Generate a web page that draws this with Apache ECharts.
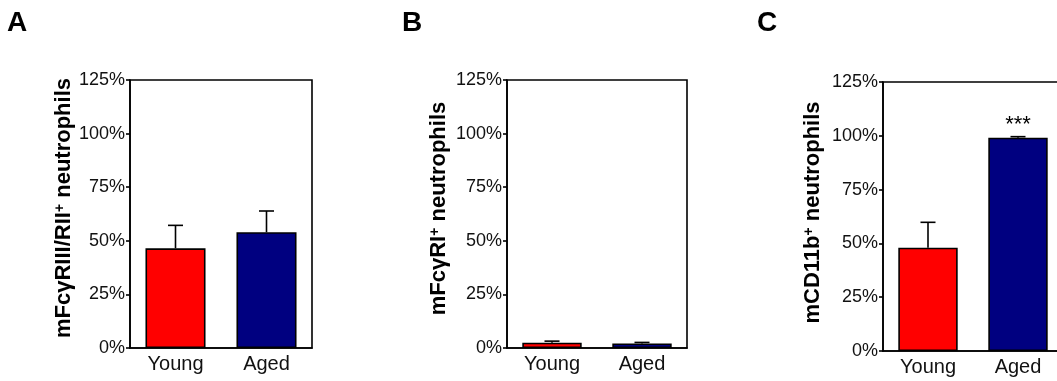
<!DOCTYPE html>
<html><head><meta charset="utf-8">
<script src="https://cdn.jsdelivr.net/npm/echarts@6/dist/echarts.min.js"></script>
<style>html,body{margin:0;padding:0;background:#fff}#c{width:1057px;height:381px}</style>
</head><body><div id="c"></div>
<script>
const categories = ['Young', 'Aged'];
const barColors = ['#ff0000', '#000080'];
const yTicks = [0, 25, 50, 75, 100, 125];
const panelLetters = ['A', 'B', 'C'];
const yTitles = ['mFcγRIII/RII{sup|+} neutrophils', 'mFcγRI{sup|+} neutrophils', 'mCD11b{sup|+} neutrophils'];
const meanA = [46.5, 54.0];
const errA = [10.7, 9.9];
const meanB = [2.5, 2.1];
const errB = [0.7, 0.5];
const meanC = [48.0, 99.1];
const errC = [11.8, 0.5];
const sigC = ['', '***'];

const FONT = 'Liberation Sans, Arial, sans-serif';
const means = [meanA, meanB, meanC];
const errs = [errA, errB, errC];
const sigs = [['', ''], ['', ''], sigC];

const grids = [
  {left: 130, top: 80, width: 182, height: 268},
  {left: 507, top: 80, width: 180, height: 268},
  {left: 883, top: 82, width: 180, height: 269}
];
const nameGaps = [47, 57, 59];
const namePads = [[0, 0, 0, 12], [0, 0, 0, 11], [0, 0, 0, 8]];
const letterPos = [[7, 9], [402, 9], [757, 9]];

function renderErr(params, api) {
  const x = api.value(0), y = api.value(1), e = api.value(2);
  const b = api.coord([x, y]);
  const t = api.coord([x, y + e]);
  const cap = 7.5;
  return {type: 'group', children: [
    {type: 'line', shape: {x1: b[0], y1: b[1], x2: t[0], y2: t[1]}, style: {stroke: '#000', lineWidth: 1.6}},
    {type: 'line', shape: {x1: t[0] - cap, y1: t[1], x2: t[0] + cap, y2: t[1]}, style: {stroke: '#000', lineWidth: 1.6}}
  ]};
}

const option = {
  backgroundColor: '#fff',
  animation: false,
  textStyle: {fontFamily: FONT},
  title: panelLetters.map((l, i) => ({text: l, left: letterPos[i][0], top: letterPos[i][1], padding: 0,
    textStyle: {fontSize: 28, fontWeight: 'bold', color: '#000', fontFamily: FONT}})),
  grid: grids.map(g => Object.assign({show: true, borderColor: '#000', borderWidth: 1.6, backgroundColor: 'transparent', outerBoundsMode: 'none', containLabel: false}, g)),
  xAxis: grids.map((g, i) => ({type: 'category', gridIndex: i, data: categories,
    axisLine: {lineStyle: {color: '#000', width: 1.6}}, axisTick: {show: false},
    axisLabel: {color: '#111', fontSize: 20, margin: 6, fontFamily: FONT}})),
  yAxis: grids.map((g, i) => ({type: 'value', gridIndex: i, min: yTicks[0], max: yTicks[yTicks.length - 1], interval: 25,
    splitLine: {show: false},
    axisLine: {show: true, lineStyle: {color: '#000', width: 1.6}},
    axisTick: {show: true, length: 4, lineStyle: {color: '#000', width: 1.6}},
    axisLabel: {color: '#111', fontSize: 18, margin: 5, formatter: v => v + '%', fontFamily: FONT},
    name: yTitles[i], nameLocation: 'middle', nameGap: nameGaps[i],
    nameTextStyle: {fontSize: 22, fontWeight: 'bold', color: '#000', fontFamily: FONT, padding: namePads[i],
      rich: {sup: {fontSize: 14, fontWeight: 'bold', color: '#000', verticalAlign: 'top', fontFamily: FONT}}}
  })),
  series: []
};

for (let i = 0; i < 3; i++) {
  option.series.push({
    type: 'bar', xAxisIndex: i, yAxisIndex: i, barWidth: '66%',
    data: means[i].map((v, k) => ({value: v, itemStyle: {color: barColors[k], borderColor: '#000', borderWidth: 1.6},
      label: {show: sigs[i][k] !== '', formatter: sigs[i][k], position: 'top', distance: 2, fontSize: 22, color: '#000', fontFamily: FONT}})),
    z: 2
  });
  option.series.push({
    type: 'custom', xAxisIndex: i, yAxisIndex: i, renderItem: renderErr, z: 3,
    encode: {x: 0, y: 1},
    data: means[i].map((v, k) => [k, v, errs[i][k]])
  });
}

const chart = echarts.init(document.getElementById('c'), null, {renderer: 'canvas'});
chart.setOption(option);
</script></body></html>
